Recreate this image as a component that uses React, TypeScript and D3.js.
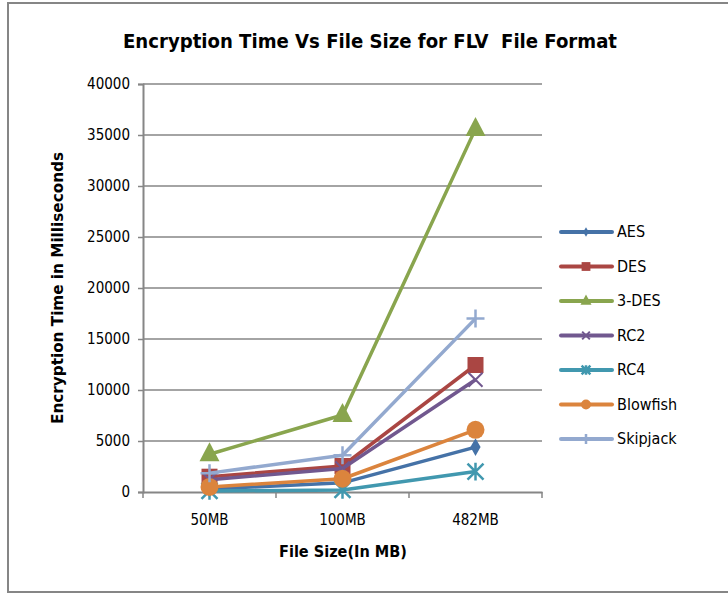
import React, { useEffect, useRef } from "react";
import * as d3 from "d3";

const categories = ["50MB", "100MB", "482MB"];
const seriesNames = ["AES", "DES", "3-DES", "RC2", "RC4", "Blowfish", "Skipjack"];
const aes = [300, 900, 4400];
const des = [1500, 2550, 12450];
const tripleDes = [3700, 7550, 35600];
const rc2 = [1200, 2300, 11000];
const rc4 = [100, 200, 2000];
const blowfish = [500, 1300, 6100];
const skipjack = [1850, 3600, 17000];
const yTicks = [0, 5000, 10000, 15000, 20000, 25000, 30000, 35000, 40000];

const colors = ["#4572A7", "#AA4643", "#89A54E", "#71588F", "#4198AF", "#DB843D", "#93A9CF"];
const markers = ["diamond", "square", "triangle", "x", "star", "circle", "plus"];

const FONT = "'Liberation Sans Narrow', 'DejaVu Sans Condensed', 'Arial Narrow', sans-serif";

export default function App() {
  const ref = useRef<SVGSVGElement>(null);

  useEffect(() => {
    const svg = d3.select(ref.current);
    svg.selectAll("*").remove();
    const values = [aes, des, tripleDes, rc2, rc4, blowfish, skipjack];

    const left = 143, right = 542, top = 84, bottom = 492;
    const x = d3.scaleBand().domain(categories).range([left, right]);
    const y = d3.scaleLinear().domain([0, 40000]).range([bottom, top]);

    // outer border
    svg.append("rect")
      .attr("x", 8).attr("y", 3).attr("width", 740).attr("height", 589)
      .attr("fill", "#fff").attr("stroke", "#868686").attr("stroke-width", 2);

    // title
    svg.append("text")
      .attr("x", 370).attr("y", 48)
      .attr("text-anchor", "middle")
      .style("white-space", "pre")
      .style("font-family", FONT).style("font-size", "20px").style("font-weight", "bold")
      .attr("textLength", 494).attr("lengthAdjust", "spacingAndGlyphs")
      .text("Encryption Time Vs File Size for FLV  File Format");

    // gridlines
    svg.append("g").selectAll("line").data(yTicks.slice(1)).join("line")
      .attr("x1", left).attr("x2", right)
      .attr("y1", d => y(d)).attr("y2", d => y(d))
      .attr("stroke", "#868686").attr("stroke-width", 1.5);

    // y axis
    const yAxis = svg.append("g")
      .attr("transform", `translate(${left},0)`)
      .call(d3.axisLeft(y).tickValues(yTicks).tickSize(5).tickPadding(8).tickFormat(d3.format("d")));
    yAxis.select(".domain").attr("stroke", "#868686").attr("stroke-width", 2);
    yAxis.selectAll(".tick line").attr("stroke", "#868686").attr("stroke-width", 1.5);
    yAxis.selectAll("text").style("font-family", FONT).style("font-size", "15px").attr("fill", "#000");

    // x axis
    const xAxis = svg.append("g")
      .attr("transform", `translate(0,${bottom})`)
      .call(d3.axisBottom(x).tickSize(0).tickPadding(22));
    xAxis.select(".domain").attr("stroke", "#868686").attr("stroke-width", 2);
    xAxis.selectAll("text").style("font-family", FONT).style("font-size", "15px").attr("fill", "#000");
    const xEdges = [left, ...categories.map(c => (x(c) as number) + x.bandwidth())];
    xAxis.selectAll(".edge").data(xEdges).join("line")
      .attr("x1", d => d).attr("x2", d => d).attr("y1", 0).attr("y2", 6)
      .attr("stroke", "#868686").attr("stroke-width", 1.5);

    // axis titles
    svg.append("text")
      .attr("transform", `translate(63,${(top + bottom) / 2}) rotate(-90)`)
      .attr("text-anchor", "middle")
      .style("font-family", FONT).style("font-size", "16px").style("font-weight", "bold")
      .attr("textLength", 272).attr("lengthAdjust", "spacingAndGlyphs")
      .text("Encryption Time in Milliseconds");
    svg.append("text")
      .attr("x", 343).attr("y", 557)
      .attr("text-anchor", "middle")
      .style("font-family", FONT).style("font-size", "16px").style("font-weight", "bold")
      .attr("textLength", 128).attr("lengthAdjust", "spacingAndGlyphs")
      .text("File Size(In MB)");

    const cx = (c: string) => (x(c) as number) + x.bandwidth() / 2;

    const drawMarker = (g: any, type: string, px: number, py: number, color: string, scale: number) => {
      const s = scale;
      if (type === "diamond") {
        g.append("path").attr("d", d3.symbol(d3.symbolDiamond, 90 * s * s)()).attr("transform", `translate(${px},${py})`).attr("fill", color);
      } else if (type === "square") {
        g.append("rect").attr("x", px - 8 * s).attr("y", py - 8 * s).attr("width", 16 * s).attr("height", 16 * s).attr("fill", color);
      } else if (type === "triangle") {
        g.append("path").attr("d", `M${px},${py - 12 * s}L${px + 10 * s},${py + 7 * s}L${px - 10 * s},${py + 7 * s}Z`).attr("fill", color);
      } else if (type === "circle") {
        g.append("circle").attr("cx", px).attr("cy", py).attr("r", 9 * s).attr("fill", color);
      } else if (type === "x") {
        const r = 7 * s;
        g.append("path").attr("d", `M${px - r},${py - r}L${px + r},${py + r}M${px - r},${py + r}L${px + r},${py - r}`).attr("stroke", color).attr("stroke-width", 2);
      } else if (type === "star") {
        const r = 8 * s;
        g.append("path").attr("d", `M${px - r},${py - r}L${px + r},${py + r}M${px - r},${py + r}L${px + r},${py - r}M${px},${py - r * 1.1}L${px},${py + r * 1.1}`).attr("stroke", color).attr("stroke-width", 2.5);
      } else if (type === "plus") {
        const r = 9 * s;
        g.append("path").attr("d", `M${px - r},${py}L${px + r},${py}M${px},${py - r}L${px},${py + r}`).attr("stroke", color).attr("stroke-width", 2.5);
      }
    };

    const line = d3.line<number>().x((d, i) => cx(categories[i])).y(d => y(d));
    const plot = svg.append("g");
    values.forEach((vals, si) => {
      const g = plot.append("g");
      g.append("path").datum(vals).attr("d", line).attr("fill", "none")
        .attr("stroke", colors[si]).attr("stroke-width", 3.5).attr("stroke-linejoin", "round");
      vals.forEach((v, i) => drawMarker(g, markers[si], cx(categories[i]), y(v), colors[si], 1));
    });

    // legend
    const legend = svg.append("g");
    seriesNames.forEach((name, i) => {
      const ly = 232 + i * 34.5;
      legend.append("line").attr("x1", 561).attr("x2", 612).attr("y1", ly).attr("y2", ly)
        .attr("stroke", colors[i]).attr("stroke-width", 4).attr("stroke-linecap", "round");
      drawMarker(legend, markers[i], 586, ly, colors[i], 0.55);
      legend.append("text").attr("x", 617).attr("y", ly + 5)
        .style("font-family", FONT).style("font-size", "16px")
        .text(name);
    });
  }, []);

  return (
    <svg ref={ref} width={728} height={594} style={{ position: "absolute", left: 0, top: 0 }} />
  );
}
